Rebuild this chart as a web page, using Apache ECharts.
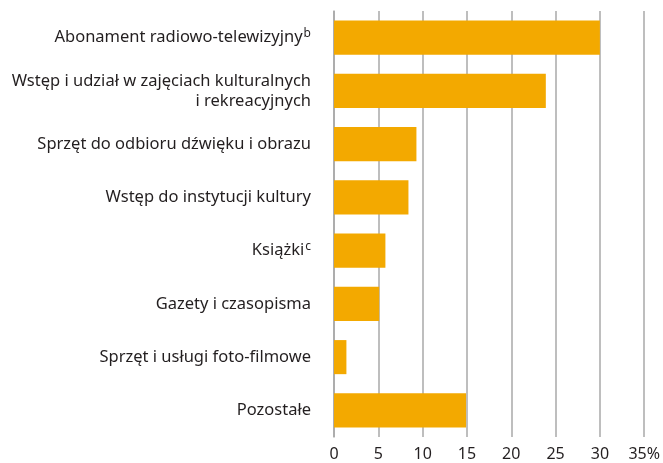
<!DOCTYPE html>
<html>
<head>
<meta charset="utf-8">
<script src="https://cdn.jsdelivr.net/npm/echarts@6/dist/echarts.min.js"></script>
<style>
  html, body { margin: 0; padding: 0; background: #fff; }
  #chart { width: 663px; height: 463px; }
</style>
</head>
<body>
<div id="chart"></div>
<script>
// kategorie (od góry do dołu)
const categories = [
  "Abonament radiowo-telewizyjny{sup|b}",
  "Wstęp i udział w zajęciach kulturalnych\ni rekreacyjnych",
  "Sprzęt do odbioru dźwięku i obrazu",
  "Wstęp do instytucji kultury",
  "Książki{sup|c}",
  "Gazety i czasopisma",
  "Sprzęt i usługi foto-filmowe",
  "Pozostałe",
];
const values = [30.0, 23.9, 9.3, 8.4, 5.8, 5.1, 1.4, 14.9];
const tickLabels = ["0", "5", "10", "15", "20", "25", "30", "35%"];

const chart = echarts.init(document.getElementById("chart"));
const font = "'Noto Sans', sans-serif";

chart.setOption({
  animation: false,
  grid: {
    left: 334,
    right: 18,
    top: 11,
    bottom: 26,
    containLabel: false,
  },
  xAxis: {
    type: "value",
    min: 0,
    max: 35,
    interval: 5,
    axisLine: { show: false },
    axisTick: { show: false },
    splitLine: { show: true, lineStyle: { color: "#a8a8a8", width: 1.5 } },
    axisLabel: {
      margin: 9,
      color: "#231f20",
      fontFamily: font,
      fontSize: 16,
      formatter: (v) => tickLabels[Math.round(v / 5)],
    },
  },
  yAxis: {
    type: "category",
    inverse: true,
    data: categories,
    axisLine: { show: true, lineStyle: { color: "#a8a8a8", width: 1.5 } },
    axisTick: { show: false },
    axisLabel: {
      margin: 23,
      color: "#231f20",
      fontFamily: font,
      fontSize: 16.5,
      lineHeight: 20,
      align: "right",
      rich: {
        sup: {
          fontFamily: font,
          fontSize: 12,
          color: "#231f20",
          verticalAlign: "top",
          padding: [0, 0, 9, 1],
        },
      },
    },
  },
  series: [
    {
      type: "bar",
      data: values,
      barCategoryGap: "36%",
      itemStyle: { color: "#f3a900" },
    },
  ],
});
</script>
</body>
</html>
